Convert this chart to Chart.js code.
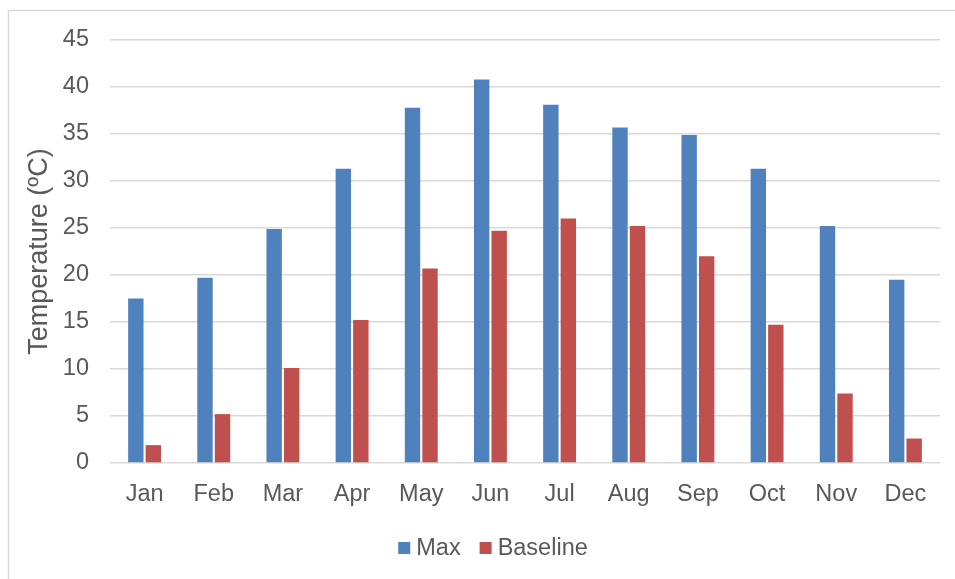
<!DOCTYPE html>
<html>
<head>
<meta charset="utf-8">
<script src="https://cdn.jsdelivr.net/npm/chart.js@4/dist/chart.umd.min.js"></script>
<style>
  html, body { margin: 0; padding: 0; background: #ffffff; }
  #wrap { position: relative; width: 955px; height: 579px; }
</style>
</head>
<body>
<div id="wrap"><canvas id="c" width="955" height="579"></canvas></div>
<script>
// Monthly temperatures (°C)
const months = ['Jan', 'Feb', 'Mar', 'Apr', 'May', 'Jun', 'Jul', 'Aug', 'Sep', 'Oct', 'Nov', 'Dec'];
const maxTemps = [17.5, 19.7, 24.9, 31.3, 37.8, 40.8, 38.1, 35.7, 34.9, 31.3, 25.2, 19.5];
const baselineTemps = [1.9, 5.2, 10.1, 15.2, 20.7, 24.7, 26.0, 25.2, 22.0, 14.7, 7.4, 2.6];
const yTicks = [0, 5, 10, 15, 20, 25, 30, 35, 40, 45];

const FONT = "'Liberation Sans', Arial, sans-serif";
const TEXT = '#595959';
const GRID = '#d9d9d9';

// light frame around the whole chart
const framePlugin = {
  id: 'frame',
  beforeDraw(chart) {
    const ctx = chart.ctx;
    ctx.save();
    ctx.fillStyle = '#ffffff';
    ctx.fillRect(0, 0, chart.width, chart.height);
    ctx.strokeStyle = GRID;
    ctx.lineWidth = 1.4;
    ctx.strokeRect(8.5, 10.5, chart.width + 20, chart.height + 20);
    ctx.restore();
  }
};

// compact legend centred below the axis
const legendPlugin = {
  id: 'bottomLegend',
  afterDraw(chart) {
    const ctx = chart.ctx;
    const items = chart.data.datasets.map(d => ({ text: d.label, color: d.backgroundColor }));
    const box = 12, gap = 6, spacing = 19;
    ctx.save();
    ctx.font = '23.5px ' + FONT;
    ctx.textBaseline = 'middle';
    ctx.textAlign = 'left';
    const widths = items.map(it => box + gap + ctx.measureText(it.text).width);
    const total = widths.reduce((a, b) => a + b, 0) + spacing * (items.length - 1);
    let x = 493 - total / 2;
    const y = 548;
    items.forEach((it, i) => {
      ctx.fillStyle = it.color;
      ctx.fillRect(x, y - box / 2, box, box);
      ctx.fillStyle = TEXT;
      ctx.fillText(it.text, x + box + gap, y + 1);
      x += widths[i] + spacing;
    });
    ctx.restore();
  }
};

new Chart(document.getElementById('c'), {
  type: 'bar',
  data: {
    labels: months,
    datasets: [
      { label: 'Max', data: maxTemps, backgroundColor: '#4f81bd', borderWidth: 0 },
      { label: 'Baseline', data: baselineTemps, backgroundColor: '#c0504d', borderWidth: 0 }
    ]
  },
  options: {
    responsive: false,
    animation: false,
    devicePixelRatio: 1,
    categoryPercentage: 0.506,
    barPercentage: 0.88,
    layout: { padding: { left: 19, right: 15, top: 40, bottom: 0 } },
    plugins: {
      legend: { display: false },
      tooltip: { enabled: false }
    },
    scales: {
      x: {
        grid: { display: false },
        border: { display: false },
        ticks: { color: TEXT, font: { family: FONT, size: 23.5 }, padding: 9, maxRotation: 0 },
        afterFit(scale) { scale.height = 116; }
      },
      y: {
        min: 0,
        max: 45,
        afterBuildTicks(scale) { scale.ticks = yTicks.map(v => ({ value: v })); },
        grid: { color: GRID, lineWidth: 1.4, drawTicks: false },
        border: { display: false },
        ticks: { color: TEXT, font: { family: FONT, size: 23.5 }, padding: 21 },
        title: {
          display: true,
          text: 'Temperature (ºC)',
          color: TEXT,
          font: { family: FONT, size: 27 },
          padding: { top: 4, bottom: 0 }
        },
        afterFit(scale) { scale.width = 91; }
      }
    }
  },
  plugins: [framePlugin, legendPlugin]
});
</script>
</body>
</html>
